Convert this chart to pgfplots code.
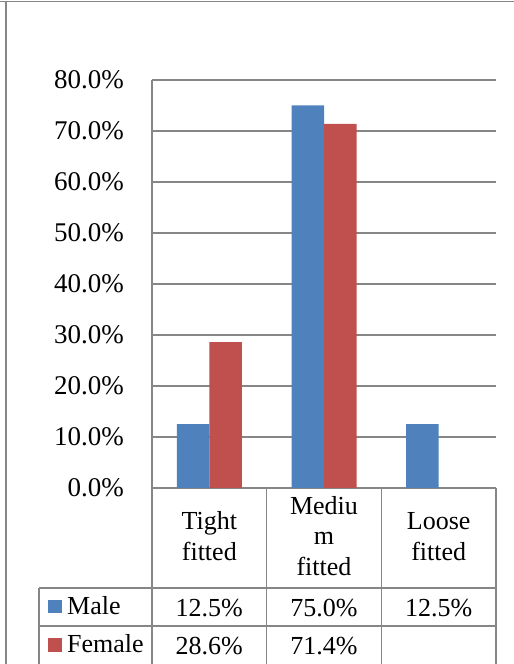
\documentclass[border=0pt]{standalone}
\usepackage{fontspec}
\setmainfont{Liberation Serif}
\usepackage{pgfplots}
\usepackage{pgfplotstable}
\pgfplotsset{compat=1.18}

\definecolor{maleblue}{HTML}{4F81BD}
\definecolor{femalered}{HTML}{C0504D}
\definecolor{gridgray}{HTML}{868686}

% Share of respondents by fit preference (nan = no value)
\pgfplotstableread{
x male female
1 12.5 28.6
2 75.0 71.4
3 12.5 nan
}\fitdata

% print one cell of the data table as a percentage
\newcommand\pct[2]{\pgfplotstablegetelem{#1}{#2}\of\fitdata\pgfmathprintnumber[fixed,fixed zerofill,precision=1,assume math mode=true]{\pgfplotsretval}\%}

\begin{document}
\begin{tikzpicture}[x=1bp,y=1bp,font=\fontsize{26bp}{30bp}\selectfont]
\useasboundingbox (0,0) rectangle (514,664);

% chart frame
\draw[gridgray,line width=1bp] (0,662) -- (514,662);
\draw[gridgray,line width=2bp] (6,662) -- (6,-5);

\begin{axis}[
  at={(152bp,176bp)}, anchor=south west,
  scale only axis, width=344bp, height=408bp,
  xmin=0.5, xmax=3.5, ymin=0, ymax=80,
  axis x line*=bottom, axis y line*=left,
  axis line style={-,draw=gridgray,line width=1.2bp},
  xtick=\empty,
  ytick={0,10,20,30,40,50,60,70,80},
  major tick length=0pt,
  ymajorgrids, grid style={gridgray,line width=1.2bp},
  /pgf/number format/assume math mode=true,
  yticklabel={\pgfmathprintnumber[fixed,fixed zerofill,precision=1]{\tick}\%},
  yticklabel style={inner sep=0pt, xshift=-28bp, font=\fontsize{27bp}{30bp}\selectfont},
  ybar=0pt, bar width=32.5bp,
  clip=false,
]
\addplot[fill=maleblue,draw=none] table[x=x,y=male]{\fitdata};
\addplot[fill=femalered,draw=none] table[x=x,y=female]{\fitdata};
\end{axis}

% data table under the plot
\begin{scope}[gridgray,line width=1.2bp]
\draw (152,176) -- (152,-5);
\draw (266.7,176) -- (266.7,-5);
\draw (381.3,176) -- (381.3,-5);
\draw[line width=1.6bp] (496,176) -- (496,-5);
\draw (39,76) -- (39,-5);
\draw (39,76) -- (496,76);
\draw (39,38) -- (496,38);
\end{scope}

% category names
\node[anchor=base] at (209.3,134) {Tight};
\node[anchor=base] at (209.3,103) {fitted};
\node[anchor=base] at (324,149) {Mediu};
\node[anchor=base] at (324,119) {m};
\node[anchor=base] at (324,88) {fitted};
\node[anchor=base] at (438.7,134) {Loose};
\node[anchor=base] at (438.7,103) {fitted};

% series keys
\fill[maleblue] (48,51) rectangle (62,64);
\node[anchor=base west,inner sep=0pt] at (67,49) {Male};
\fill[femalered] (48,12) rectangle (62,26);
\node[anchor=base west,inner sep=0pt] at (67,11) {Female};

% values
\node[anchor=base] at (209.3,47) {\pct{0}{male}};
\node[anchor=base] at (324,47) {\pct{1}{male}};
\node[anchor=base] at (438.7,47) {\pct{2}{male}};
\node[anchor=base] at (209.3,9) {\pct{0}{female}};
\node[anchor=base] at (324,9) {\pct{1}{female}};
\end{tikzpicture}
\end{document}
